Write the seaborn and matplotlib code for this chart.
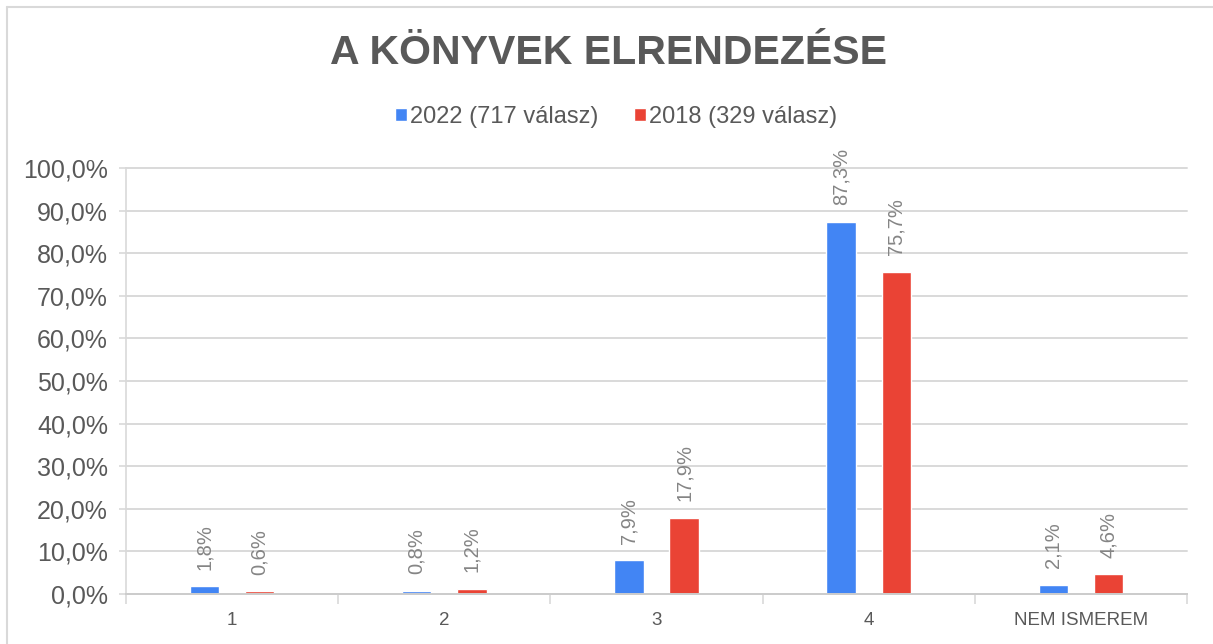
import matplotlib
matplotlib.use("Agg")
import matplotlib.pyplot as plt
from matplotlib.lines import Line2D
from matplotlib.ticker import FuncFormatter, FixedLocator
import seaborn as sns
import pandas as pd

# Survey results: how the books are arranged
categories = ["1", "2", "3", "4", "NEM ISMEREM"]
series_names = ["2022 (717 válasz)", "2018 (329 válasz)"]
values_2022 = [1.8, 0.8, 7.9, 87.3, 2.1]
values_2018 = [0.6, 1.2, 17.9, 75.7, 4.6]
title_text = "A KÖNYVEK ELRENDEZÉSE"

colors = ["#4285F4", "#EA4335"]
grid_gray = "#d9d9d9"
text_gray = "#595959"
label_gray = "#858585"

df = pd.DataFrame({
    "kategoria": categories * 2,
    "ev": [series_names[0]] * len(categories) + [series_names[1]] * len(categories),
    "ertek": values_2022 + values_2018,
})

sns.set_theme(style="white")
plt.rcParams["font.family"] = ["Liberation Sans", "DejaVu Sans"]

W, H = 1213, 644
fig = plt.figure(figsize=(W / 100, H / 100), dpi=100)
ax = fig.add_axes([126 / W, 50 / H, 1061 / W, 426 / H])

sns.barplot(data=df, x="kategoria", y="ertek", hue="ev", order=categories,
            hue_order=series_names, palette=colors, width=0.52, gap=0.47,
            saturation=1, ax=ax, errorbar=None)

ax.set_xlim(-0.5, len(categories) - 0.5)
ax.set_ylim(0, 100)
ax.set_xlabel("")
ax.set_ylabel("")

# value labels above each bar
for cont, vals in zip(ax.containers, [values_2022, values_2018]):
    ax.bar_label(cont, labels=[f"{v:.1f}%".replace(".", ",") for v in vals],
                 rotation=90, padding=12, fontsize=14.5, color=label_gray)

# y axis
ax.set_yticks(range(0, 101, 10))
ax.yaxis.set_major_formatter(FuncFormatter(lambda v, p: f"{v:.1f}%".replace(".", ",")))
ax.tick_params(axis="y", length=5, width=1.2, color=grid_gray, labelsize=18,
               labelcolor=text_gray, pad=8, left=True)
ax.grid(axis="y", color=grid_gray, linewidth=1.4)
ax.set_axisbelow(True)

# x axis: labels at centers, ticks on category boundaries
ax.tick_params(axis="x", which="major", length=0, labelsize=13.5,
               labelcolor=text_gray, pad=13)
ax.xaxis.set_minor_locator(FixedLocator([i - 0.5 for i in range(len(categories) + 1)]))
ax.tick_params(axis="x", which="minor", length=7, width=1.2, color=grid_gray,
               bottom=True)

for side in ["top", "right"]:
    ax.spines[side].set_visible(False)
ax.spines["left"].set_color(grid_gray)
ax.spines["left"].set_linewidth(1.2)
ax.spines["bottom"].set_color("#cccccc")
ax.spines["bottom"].set_linewidth(1.4)
for gl in ax.get_ygridlines():
    gl.set_clip_on(False)

# legend
handles, labels = ax.get_legend_handles_labels()
ax.legend(handles, labels, loc="center", bbox_to_anchor=(616 / W, 1 - 117 / H),
          bbox_transform=fig.transFigure, ncol=2, frameon=False, fontsize=17,
          handlelength=0.5, handleheight=0.5, handletextpad=0.15,
          columnspacing=1.5, labelcolor=text_gray)

# title
fig.text(608 / W, 1 - 53 / H, title_text, ha="center", va="center",
         fontsize=29.5, fontweight="bold", color=text_gray)

# chart frame
fig.add_artist(Line2D([7 / W, 1], [1 - 7 / H, 1 - 7 / H], transform=fig.transFigure,
                      color=grid_gray, linewidth=1.5))
fig.add_artist(Line2D([7 / W, 7 / W], [0, 1 - 7 / H], transform=fig.transFigure,
                      color=grid_gray, linewidth=1.5))

fig.savefig("out.png", dpi=100, facecolor="white")
